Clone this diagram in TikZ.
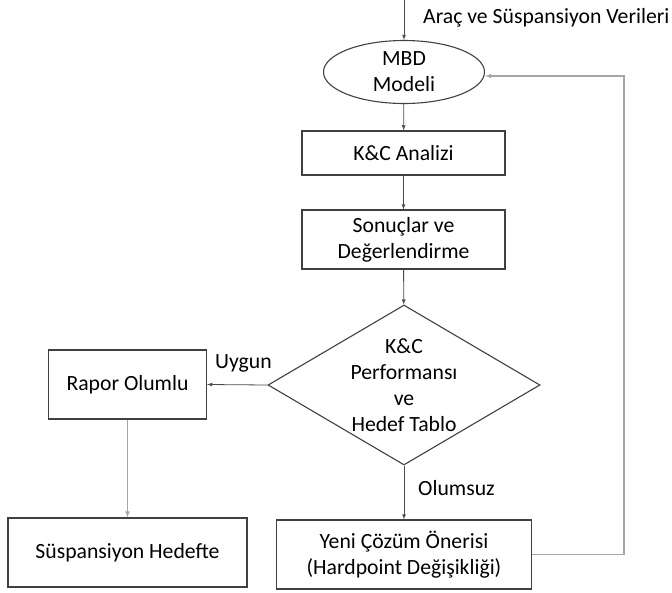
\documentclass[tikz,border=0pt]{standalone}
\usepackage{fontspec}
\setmainfont{Carlito}
\usepackage{tikz}
\usetikzlibrary{shapes}
\tikzset{>=latex}
\tikzset{
  box/.style={draw=black!75, line width=1.1pt, rectangle, inner sep=0pt, align=center},
  oval/.style={draw=black!75, line width=1.1pt, ellipse, inner sep=0pt, align=center},
  karar/.style={draw=black!75, line width=1.1pt, diamond, inner sep=0pt, shape aspect=1.7},
  ok/.style={->, draw=black!70, line width=0.8pt},
  gri/.style={->, draw=black!35, line width=1.1pt},
  etiket/.style={inner sep=0pt, anchor=west}
}

\begin{document}
\begin{tikzpicture}[x=1pt, y=-1pt, font=\fontsize{21.7}{26}\selectfont]
      \useasboundingbox (0,0) rectangle (672,592);
      % girdi ve model
      \coordinate (giris) at (404,0);
      \node[oval, minimum width=161pt, minimum height=63pt] (mbd) at (404,72) {MBD\\Modeli};
      \node[etiket] (veri) at (423,18) {Araç ve Süspansiyon Verileri};
      % analiz kutulari
      \node[box, minimum width=203pt, minimum height=44pt] (analiz) at (403.5,153) {K\&C Analizi};
      \node[box, minimum width=203pt, minimum height=59pt] (sonuc) at (403.5,239.5) {Sonuçlar ve\\Değerlendirme};
      \node[karar, minimum width=272pt, minimum height=160pt] (tablo) at (404,385) {};
      \node[align=center, inner sep=0pt] (tablometin) at (tablo.center) {K\&C\\Performansı\\ve\\Hedef Tablo};
      % sonuc kutulari
      \node[box, minimum width=158pt, minimum height=69pt] (rapor) at (127.5,384.5) {Rapor Olumlu};
      \node[box, minimum width=239pt, minimum height=69pt] (hedef) at (127.5,552.5) {Süspansiyon Hedefte};
      \node[box, minimum width=255pt, minimum height=69pt] (yeni) at (404,554.5) {Yeni Çözüm Önerisi\\(Hardpoint Değişikliği)};
      \coordinate (sag) at (624,554.5);
      \coordinate (ust) at (624,76);
      % oklar
      \draw[ok] (giris) -- (mbd);
      \draw[ok] (mbd) -- (analiz);
      \draw[ok] (analiz) -- (sonuc);
      \draw[ok] (sonuc) -- (tablo);
      \draw[ok] (tablo.west) -- (rapor.east);
      \draw[gri] (rapor) -- (hedef);
      \draw[ok] (tablo.south) -- (yeni.north);
      \draw[gri] (yeni.east) -- (sag) -- (ust) -- (mbd.east |- ust);
      \node[etiket] (uygun) at (215,363) {Uygun};
      \node[etiket] (olumsuz) at (418,488) {Olumsuz};
    \end{tikzpicture}
\end{document}
